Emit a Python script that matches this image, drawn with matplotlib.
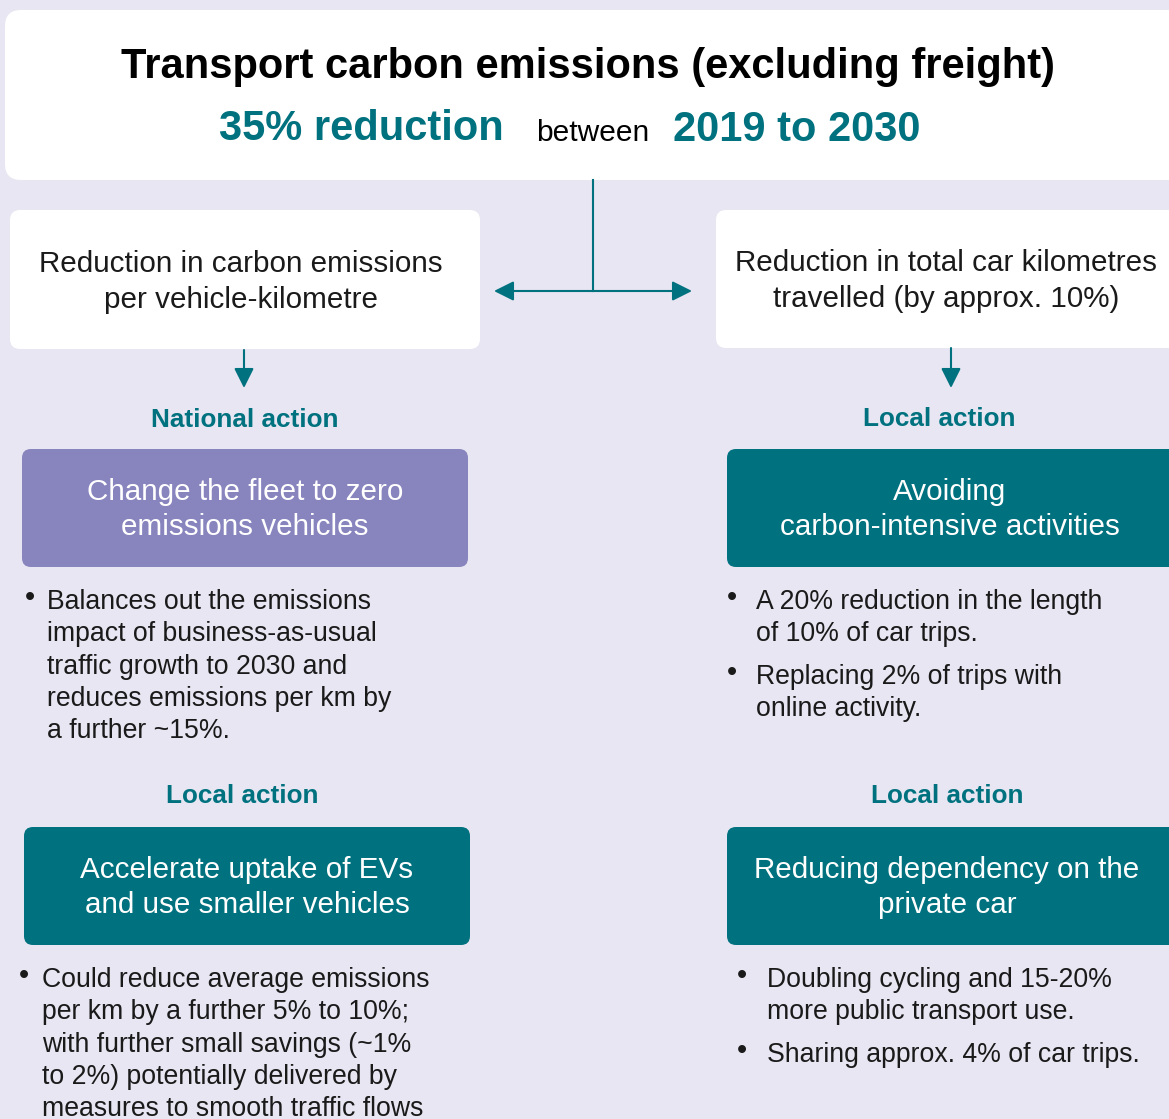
import matplotlib.pyplot as plt
from matplotlib.patches import FancyBboxPatch, FancyArrowPatch

plt.rcParams['font.family'] = ['Liberation Sans', 'DejaVu Sans']

# ---- colours ----
BG = "#E7E6F2"
TEAL = "#00717E"
PURPLE = "#8884BE"
WHITE = "#FFFFFF"
TEXT = "#1A1A1A"

# ---- texts ----
title = "Transport carbon emissions (excluding freight)"
subtitle_parts = ["35% reduction", "between", "2019 to 2030"]

top_boxes = [
    ["Reduction in carbon emissions", "per vehicle-kilometre"],
    ["Reduction in total car kilometres", "travelled (by approx. 10%)"],
]

action_labels = ["National action", "Local action", "Local action", "Local action"]

action_boxes = [
    ["Change the fleet to zero", "emissions vehicles"],
    ["Avoiding", "carbon-intensive activities"],
    ["Accelerate uptake of EVs", "and use smaller vehicles"],
    ["Reducing dependency on the", "private car"],
]
action_colours = [PURPLE, TEAL, TEAL, TEAL]

bullets = [
    [["Balances out the emissions", "impact of business-as-usual",
      "traffic growth to 2030 and", "reduces emissions per km by",
      "a further ~15%."]],
    [["A 20% reduction in the length", "of 10% of car trips."],
     ["Replacing 2% of trips with", "online activity."]],
    [["Could reduce average emissions", "per km by a further 5% to 10%;",
      "with further small savings (~1%", "to 2%) potentially delivered by",
      "measures to smooth traffic flows"]],
    [["Doubling cycling and 15-20%", "more public transport use."],
     ["Sharing approx. 4% of car trips."]],
]

W, H = 1169, 1119
fig = plt.figure(figsize=(W / 100, H / 100), dpi=100)
fig.patch.set_facecolor(BG)
ax = fig.add_axes([0, 0, 1, 1])
ax.set_xlim(0, W)
ax.set_ylim(H, 0)
ax.axis("off")
ax.set_facecolor(BG)

ARROW = "-|>,head_length=12,head_width=6"


def box(x0, y0, x1, y1, colour, r=12):
    p = FancyBboxPatch((x0 + r, y0 + r), (x1 - x0) - 2 * r, (y1 - y0) - 2 * r,
                       boxstyle=f"round,pad={r}", fc=colour, ec="none",
                       mutation_aspect=1)
    ax.add_patch(p)


# ---- header box ----
box(5, 10, 1200, 180, WHITE, r=16)
ax.text(588, 67, title, ha="center", va="center", fontsize=30,
        fontweight="bold", color="black")
ax.text(361, 129, subtitle_parts[0], ha="center", va="center", fontsize=30,
        fontweight="bold", color=TEAL)
ax.text(593, 133, subtitle_parts[1], ha="center", va="center", fontsize=21.5,
        color="black")
ax.text(797, 130, subtitle_parts[2], ha="center", va="center", fontsize=30,
        fontweight="bold", color=TEAL)

# ---- connector ----
ax.plot([593, 593], [180, 291], color=TEAL, lw=1.5)
for xe in (494, 692):
    ax.add_patch(FancyArrowPatch((593, 291), (xe, 291), arrowstyle=ARROW,
                                 color=TEAL, lw=1.5, shrinkA=0, shrinkB=0))

# ---- level 1 boxes ----
lvl1 = [(10, 210, 480, 349, 241), (716, 210, 1200, 348, 946)]
for (x0, y0, x1, y1, cx), lines in zip(lvl1, top_boxes):
    box(x0, y0, x1, y1, WHITE, r=10)
    cy = (y0 + y1) / 2
    for i, ln in enumerate(lines):
        ax.text(cx, cy - 16 + i * 36, ln, ha="center", va="center",
                fontsize=21.3, color=TEXT)

# small down arrows
for x, y0 in [(244, 350), (951, 348)]:
    ax.add_patch(FancyArrowPatch((x, y0), (x, 388), arrowstyle=ARROW,
                                 color=TEAL, lw=1.5, shrinkA=0, shrinkB=0))

# ---- action labels ----
label_pos = [(245, 420), (939, 419), (242, 796), (947, 796)]
for (x, y), lab in zip(label_pos, action_labels):
    ax.text(x, y, lab, ha="center", va="center", fontsize=18.8,
            fontweight="bold", color=TEAL)

# ---- action boxes ----
abox = [(22, 449, 468, 567, 245), (727, 449, 1200, 567, 950),
        (24, 827, 470, 945, 247), (727, 827, 1200, 945, 947)]
for (x0, y0, x1, y1, cx), lines, col in zip(abox, action_boxes, action_colours):
    box(x0, y0, x1, y1, col, r=9)
    cy = (y0 + y1) / 2
    for i, ln in enumerate(lines):
        ax.text(cx, cy - 16 + i * 35, ln, ha="center", va="center",
                fontsize=21.3, color=WHITE)

# ---- bullet lists ----
bullet_pos = [(30, 47, 602), (732, 756, 602), (24, 42, 980), (742, 767, 980)]
LINE = 32.3
GAP = 10.5
for (bx, tx, y), items in zip(bullet_pos, bullets):
    for item in items:
        ax.text(bx, y - 4, "\u2022", ha="center", va="center", fontsize=21,
                color=TEXT)
        for ln in item:
            ax.text(tx, y, ln, ha="left", va="center", fontsize=19.2, color=TEXT)
            y += LINE
        y += GAP

fig.savefig("out.png", dpi=100, facecolor=BG)
